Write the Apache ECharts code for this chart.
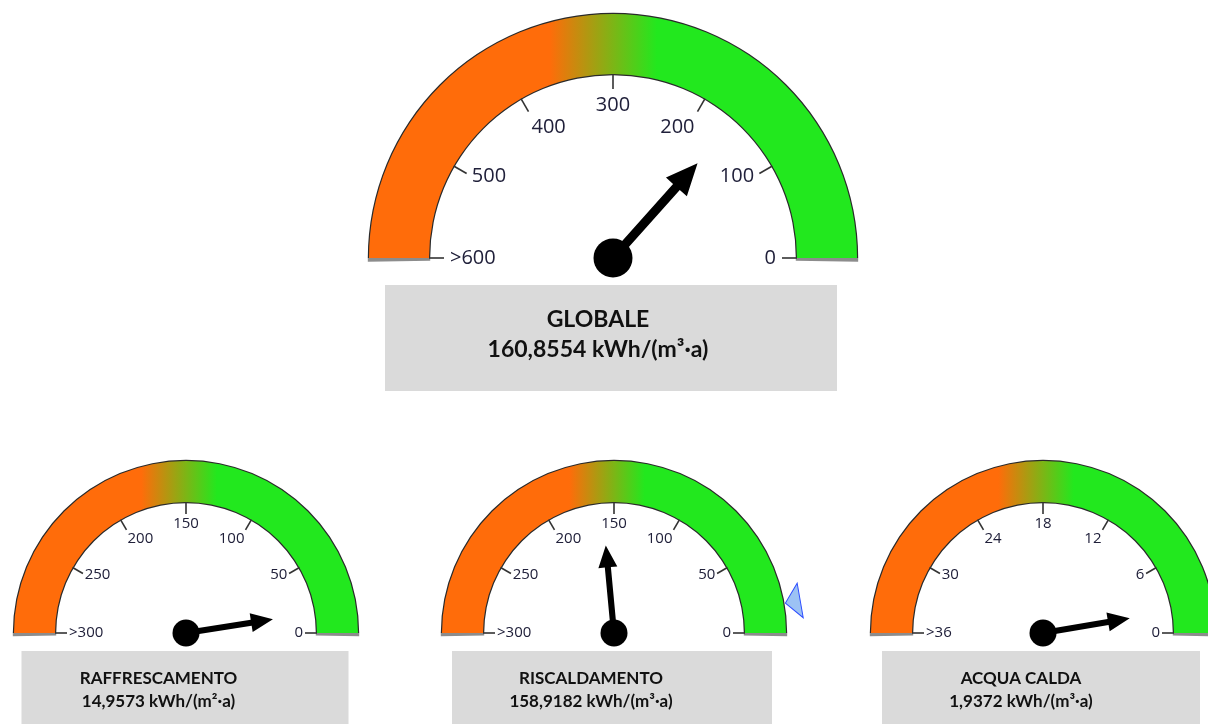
<!DOCTYPE html>
<html>
<head>
<meta charset="utf-8">
<title>Indicatori energetici</title>
<script src="https://cdn.jsdelivr.net/npm/echarts@6/dist/echarts.min.js"></script>
<style>
  html, body { margin: 0; padding: 0; background: #ffffff; }
  #main { width: 1208px; height: 724px; }
</style>
</head>
<body>
<div id="main"></div>
<script>
// ---- data ----
const gaugeNames  = ['GLOBALE', 'RAFFRESCAMENTO', 'RISCALDAMENTO', 'ACQUA CALDA'];
const gaugeValues = [160.8554, 14.9573, 158.9182, 1.9372];
const gaugeMax    = [600, 300, 300, 36];
const gaugeUnits  = ['kWh/(m³·a)', 'kWh/(m²·a)', 'kWh/(m³·a)', 'kWh/(m³·a)'];
const tickCount   = 6;
// reference marker shown on the heating gauge
const markerGauge = 2;
const markerValue = 16.5;

// ---- layout (pixels) ----
const big = { r: 244, band: 60, tick: 15, labelDist: 66, font: 20, needleW: 28, needleL: 127, hub: 39, cap: 0.85,
              textSize: 23, lineH: 30 };
const small = { r: 172, band: 41, tick: 12, labelDist: 43, font: 15, needleW: 19, needleL: 88, hub: 27, cap: 1.1,
                textSize: 17, lineH: 23 };
const layouts = [
  Object.assign({}, big,   { cx: 613,  cy: 258, box: { dx: -2, dy: 80,   w: 426, h: 86,   padTop: 20,   padR: 26 } }),
  Object.assign({}, small, { cx: 186,  cy: 633, box: { dx: -1, dy: 57.5, w: 274, h: 62.5, padTop: 16.5, padR: 53 } }),
  Object.assign({}, small, { cx: 614,  cy: 633, box: { dx: -2, dy: 57.5, w: 278, h: 62.5, padTop: 16.5, padR: 42 } }),
  Object.assign({}, small, { cx: 1043, cy: 633, box: { dx: -2, dy: 57.5, w: 278, h: 62.5, padTop: 16.5, padR: 40 } })
];

const ORANGE = '#ff6c0a';
const GREEN  = '#22e81e';
const NEEDLE = 'path://M14 0L28 32L18.5 32L18.5 128L9.5 128L9.5 32L0 32Z';
const MARKER = 'path://M0 0L35 0L17.5 15Z';

const fmt = v => v.toFixed(4).replace('.', ',');

function bandGradient() {
  return new echarts.graphic.LinearGradient(0, 0, 1, 0, [
    { offset: 0,    color: ORANGE },
    { offset: 0.37, color: ORANGE },
    { offset: 0.59, color: GREEN },
    { offset: 1,    color: GREEN }
  ]);
}

const hidden = {
  axisTick: { show: false }, splitLine: { show: false }, axisLabel: { show: false },
  pointer: { show: false }, anchor: { show: false }, title: { show: false }, detail: { show: false }
};

const series = [];
gaugeNames.forEach((name, i) => {
  const L = layouts[i];
  // zero at the right, maximum at the left
  const base = {
    type: 'gauge', center: [L.cx, L.cy], startAngle: 0, endAngle: 180, clockwise: false,
    min: 0, max: gaugeMax[i], splitNumber: tickCount, silent: true, animation: false
  };

  // dark outline around the band with grey end caps under the baseline
  const capFrac = L.cap / (180 + 2 * L.cap);
  series.push(Object.assign({}, base, hidden, {
    startAngle: -L.cap, endAngle: 180 + L.cap,
    radius: L.r + 1.2,
    axisLine: { lineStyle: { width: L.band + 2.4,
      color: [[capFrac, '#8c8c8c'], [1 - capFrac, '#2a2a2a'], [1, '#8c8c8c']] } },
    data: [{ value: 0 }]
  }));

  // coloured band, ticks, labels, needle and caption box
  series.push(Object.assign({}, base, {
    radius: L.r,
    axisLine: { lineStyle: { width: L.band, color: [[1, bandGradient()]] } },
    axisTick: { show: false },
    splitLine: { distance: 0, length: L.tick, lineStyle: { color: '#333333', width: 1.6 } },
    axisLabel: {
      distance: L.labelDist, color: '#20203a', fontFamily: 'Open Sans', fontSize: L.font,
      formatter: v => (v === gaugeMax[i] ? '>' + v : String(v))
    },
    pointer: {
      icon: NEEDLE, width: L.needleW, length: L.needleL, offsetCenter: [0, 0],
      itemStyle: { color: '#000000' }
    },
    anchor: { show: true, showAbove: true, size: L.hub, itemStyle: { color: '#000000' } },
    title: { show: false },
    detail: {
      offsetCenter: [L.box.dx, L.box.dy],
      width: L.box.w, height: L.box.h,
      padding: [L.box.padTop, L.box.padR, 0, 0],
      backgroundColor: '#dadada',
      lineHeight: L.lineH,
      formatter: v => '{n|' + name + '}\n{v|' + fmt(v) + ' ' + gaugeUnits[i] + '}',
      rich: {
        n: { fontFamily: 'Lato', fontWeight: 'bold', fontSize: L.textSize, lineHeight: L.lineH, color: '#111111' },
        v: { fontFamily: 'Lato', fontWeight: 'bold', fontSize: L.textSize, lineHeight: L.lineH, color: '#111111' }
      },
      valueAnimation: false
    },
    data: [{ value: gaugeValues[i], name: name }]
  }));

  if (i === markerGauge) {
    series.push(Object.assign({}, base, hidden, {
      radius: L.r,
      axisLine: { show: false },
      pointer: {
        show: true, icon: MARKER, width: 35, length: 15, offsetCenter: [0, -(L.r + 2)],
        itemStyle: { color: '#9cc2f4', borderColor: '#2d4dff', borderWidth: 1 }
      },
      data: [{ value: markerValue }]
    }));
  }
});

const chart = echarts.init(document.getElementById('main'));
chart.setOption({ animation: false, series: series });
</script>
</body>
</html>
